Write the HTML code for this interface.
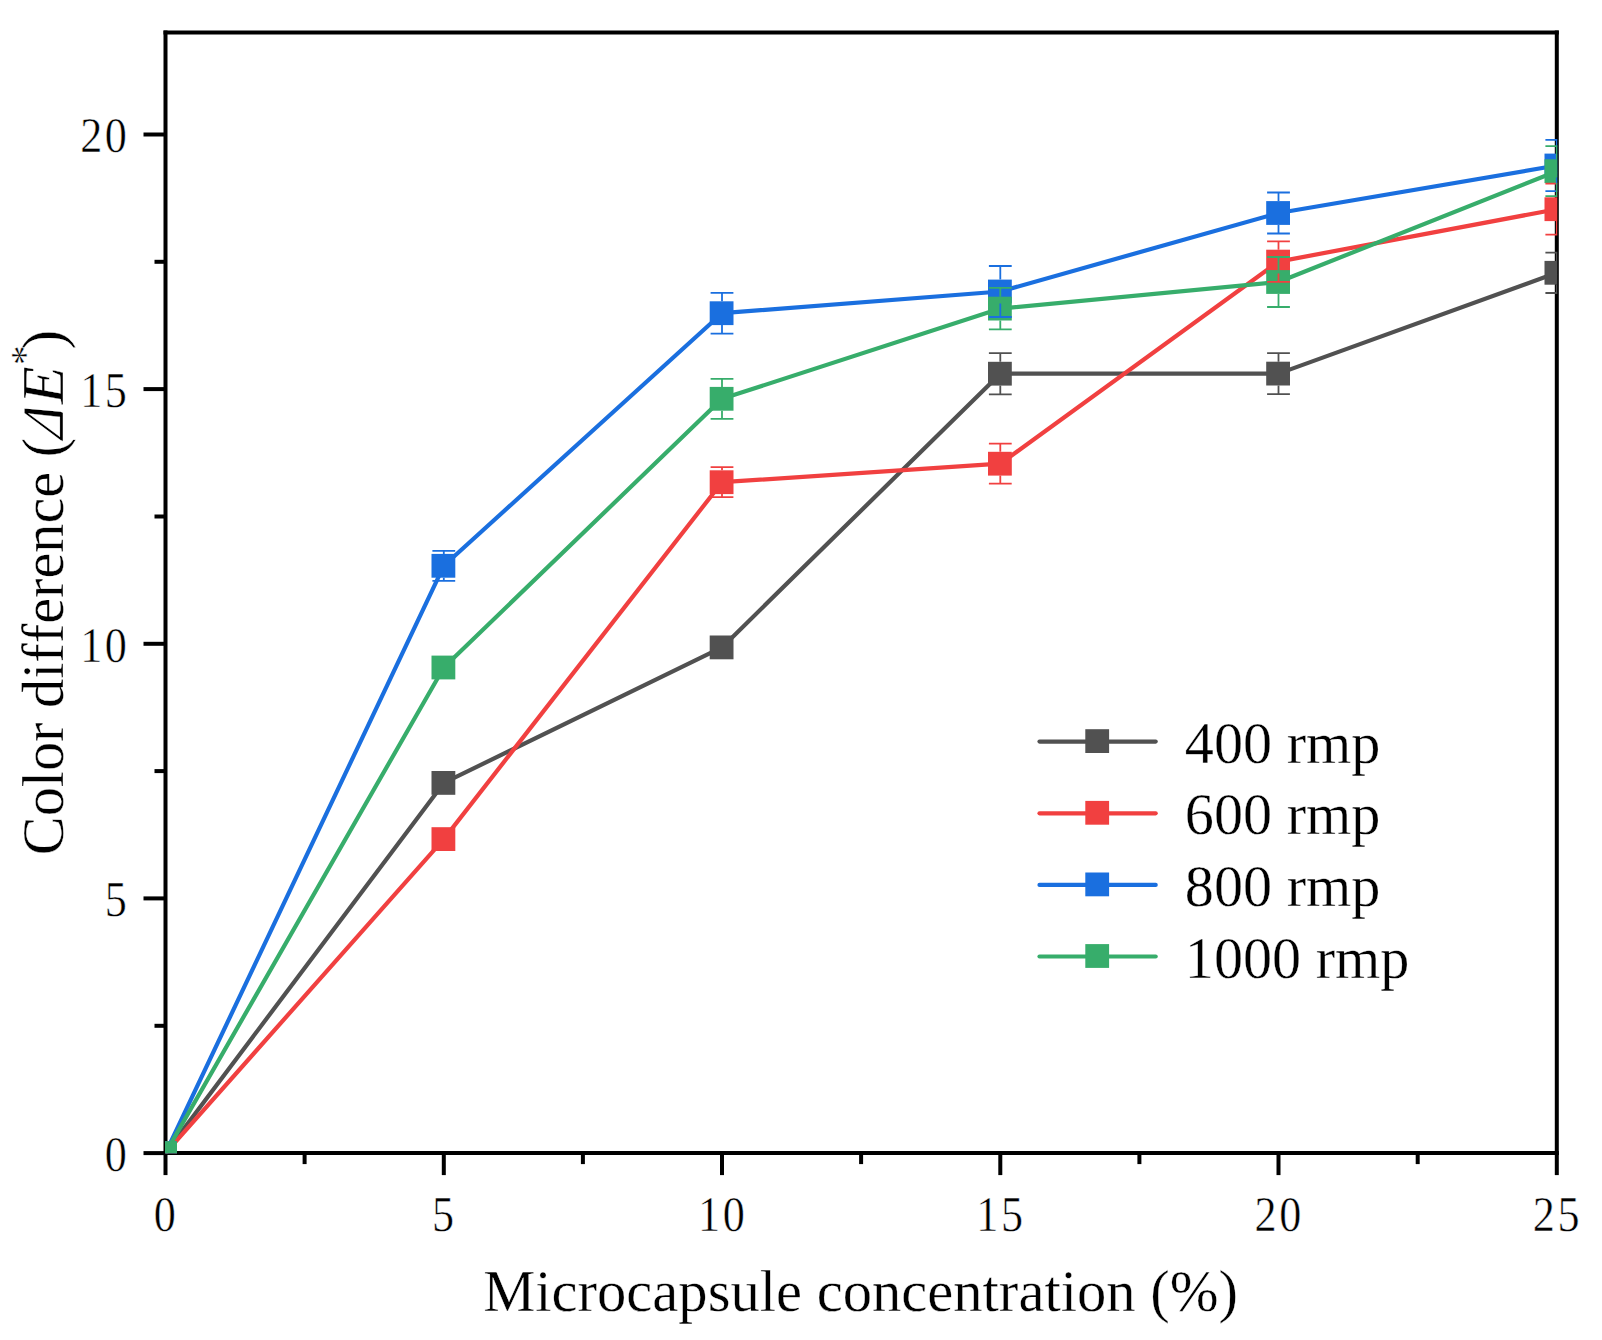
<!DOCTYPE html>
<html lang="en"><head><meta charset="utf-8"><title>Color difference vs microcapsule concentration</title>
<style>html,body{margin:0;padding:0;background:#fff;}body{width:1602px;height:1340px;overflow:hidden;}svg{display:block;}text{font-family:"Liberation Serif",serif;fill:#000;font-kerning:none;font-variant-ligatures:none;stroke:#fff;stroke-width:0.35px;paint-order:fill stroke;}.tick{font-size:50.2px;stroke:#fff;stroke-width:0.5px;paint-order:fill stroke;}.ttl{font-size:58.6px;}.leg{font-size:58.2px;}</style></head><body>
<svg width="1602" height="1340" viewBox="0 0 1602 1340">
<rect width="1602" height="1340" fill="#fff"/>
<defs><clipPath id="plot"><rect x="165.0" y="32.6" width="1392.3" height="1120.6"/></clipPath></defs>
<g stroke="#000" stroke-width="4.0" fill="none" stroke-linecap="butt">
<path d="M165.5 30.6 V1155.1"/>
<path d="M163.5 1153.1 H1558.8"/>
<path d="M165.5 1153.1 V1175.1"/>
<path d="M304.6 1153.1 V1164.1"/>
<path d="M443.8 1153.1 V1175.1"/>
<path d="M582.9 1153.1 V1164.1"/>
<path d="M722.0 1153.1 V1175.1"/>
<path d="M861.1 1153.1 V1164.1"/>
<path d="M1000.3 1153.1 V1175.1"/>
<path d="M1139.4 1153.1 V1164.1"/>
<path d="M1278.5 1153.1 V1175.1"/>
<path d="M1417.7 1153.1 V1164.1"/>
<path d="M1556.8 1153.1 V1175.1"/>
<path d="M165.5 1153.1 H143.5"/>
<path d="M165.5 1025.8 H154.5"/>
<path d="M165.5 898.4 H143.5"/>
<path d="M165.5 771.1 H154.5"/>
<path d="M165.5 643.8 H143.5"/>
<path d="M165.5 516.5 H154.5"/>
<path d="M165.5 389.1 H143.5"/>
<path d="M165.5 261.8 H154.5"/>
<path d="M165.5 134.5 H143.5"/>
</g>
<g stroke="#000" stroke-width="4.0" fill="none">
<path d="M163.5 32.6 H1558.8"/>
<path d="M1556.8 30.6 V1155.1"/>
</g>
<g clip-path="url(#plot)">
<polyline points="165.5,1153.1 443.8,782.9 722.0,647.4 1000.3,373.7 1278.5,373.6 1556.8,272.8" fill="none" stroke="#515151" stroke-width="4.2" stroke-linejoin="round"/>
<rect x="153.2" y="1141.2" width="23.8" height="23.8" fill="#515151"/>
<rect x="431.5" y="771.0" width="23.8" height="23.8" fill="#515151"/>
<rect x="709.7" y="635.5" width="23.8" height="23.8" fill="#515151"/>
<rect x="988.0" y="361.8" width="23.8" height="23.8" fill="#515151"/>
<rect x="1266.2" y="361.7" width="23.8" height="23.8" fill="#515151"/>
<rect x="1544.5" y="260.9" width="23.8" height="23.8" fill="#515151"/>
<polyline points="165.5,1153.1 443.8,839.1 722.0,482.2 1000.3,463.7 1278.5,261.6 1556.8,209.2" fill="none" stroke="#F14040" stroke-width="4.2" stroke-linejoin="round"/>
<rect x="153.2" y="1141.2" width="23.8" height="23.8" fill="#F14040"/>
<rect x="431.5" y="827.2" width="23.8" height="23.8" fill="#F14040"/>
<rect x="709.7" y="470.3" width="23.8" height="23.8" fill="#F14040"/>
<rect x="988.0" y="451.8" width="23.8" height="23.8" fill="#F14040"/>
<rect x="1266.2" y="249.7" width="23.8" height="23.8" fill="#F14040"/>
<rect x="1544.5" y="197.3" width="23.8" height="23.8" fill="#F14040"/>
<polyline points="165.5,1153.1 443.8,565.8 722.0,313.2 1000.3,291.5 1278.5,213.0 1556.8,165.5" fill="none" stroke="#1A6FDF" stroke-width="4.2" stroke-linejoin="round"/>
<rect x="153.2" y="1141.2" width="23.8" height="23.8" fill="#1A6FDF"/>
<rect x="431.5" y="553.9" width="23.8" height="23.8" fill="#1A6FDF"/>
<rect x="709.7" y="301.3" width="23.8" height="23.8" fill="#1A6FDF"/>
<rect x="988.0" y="279.6" width="23.8" height="23.8" fill="#1A6FDF"/>
<rect x="1266.2" y="201.1" width="23.8" height="23.8" fill="#1A6FDF"/>
<rect x="1544.5" y="153.6" width="23.8" height="23.8" fill="#1A6FDF"/>
<polyline points="165.5,1153.1 443.8,667.5 722.0,398.8 1000.3,308.6 1278.5,282.0 1556.8,171.2" fill="none" stroke="#37AD6B" stroke-width="4.2" stroke-linejoin="round"/>
<rect x="153.2" y="1141.2" width="23.8" height="23.8" fill="#37AD6B"/>
<rect x="431.5" y="655.6" width="23.8" height="23.8" fill="#37AD6B"/>
<rect x="709.7" y="386.9" width="23.8" height="23.8" fill="#37AD6B"/>
<rect x="988.0" y="296.7" width="23.8" height="23.8" fill="#37AD6B"/>
<rect x="1266.2" y="270.1" width="23.8" height="23.8" fill="#37AD6B"/>
<rect x="1544.5" y="159.3" width="23.8" height="23.8" fill="#37AD6B"/>
<path d="M1000.3 361.8 V353.1 M988.9 353.1 H1011.7 M1000.3 385.6 V394.3 M988.9 394.3 H1011.7" fill="none" stroke="#515151" stroke-width="1.8"/>
<path d="M1278.5 361.7 V353.1 M1267.1 353.1 H1289.9 M1278.5 385.5 V394.1 M1267.1 394.1 H1289.9" fill="none" stroke="#515151" stroke-width="1.8"/>
<path d="M1556.8 260.9 V252.6 M1545.4 252.6 H1568.2 M1556.8 284.7 V293.0 M1545.4 293.0 H1568.2" fill="none" stroke="#515151" stroke-width="1.8"/>
<path d="M722.0 470.3 V467.2 M710.6 467.2 H733.4 M722.0 494.1 V497.2 M710.6 497.2 H733.4" fill="none" stroke="#F14040" stroke-width="1.8"/>
<path d="M1000.3 451.8 V443.7 M988.9 443.7 H1011.7 M1000.3 475.6 V483.7 M988.9 483.7 H1011.7" fill="none" stroke="#F14040" stroke-width="1.8"/>
<path d="M1278.5 249.7 V241.4 M1267.1 241.4 H1289.9 M1278.5 273.5 V281.8 M1267.1 281.8 H1289.9" fill="none" stroke="#F14040" stroke-width="1.8"/>
<path d="M1556.8 197.3 V183.7 M1545.4 183.7 H1568.2 M1556.8 221.1 V234.7 M1545.4 234.7 H1568.2" fill="none" stroke="#F14040" stroke-width="1.8"/>
<path d="M443.8 553.9 V550.8 M432.4 550.8 H455.2 M443.8 577.7 V580.8 M432.4 580.8 H455.2" fill="none" stroke="#1A6FDF" stroke-width="1.8"/>
<path d="M722.0 301.3 V292.8 M710.6 292.8 H733.4 M722.0 325.1 V333.6 M710.6 333.6 H733.4" fill="none" stroke="#1A6FDF" stroke-width="1.8"/>
<path d="M1000.3 279.6 V266.0 M988.9 266.0 H1011.7 M1000.3 303.4 V317.0 M988.9 317.0 H1011.7" fill="none" stroke="#1A6FDF" stroke-width="1.8"/>
<path d="M1278.5 201.1 V192.5 M1267.1 192.5 H1289.9 M1278.5 224.9 V233.5 M1267.1 233.5 H1289.9" fill="none" stroke="#1A6FDF" stroke-width="1.8"/>
<path d="M1556.8 153.6 V139.9 M1545.4 139.9 H1568.2 M1556.8 177.4 V191.1 M1545.4 191.1 H1568.2" fill="none" stroke="#1A6FDF" stroke-width="1.8"/>
<path d="M722.0 386.9 V378.8 M710.6 378.8 H733.4 M722.0 410.7 V418.8 M710.6 418.8 H733.4" fill="none" stroke="#37AD6B" stroke-width="1.8"/>
<path d="M1000.3 296.7 V287.8 M988.9 287.8 H1011.7 M1000.3 320.5 V329.4 M988.9 329.4 H1011.7" fill="none" stroke="#37AD6B" stroke-width="1.8"/>
<path d="M1278.5 270.1 V257.0 M1267.1 257.0 H1289.9 M1278.5 293.9 V307.0 M1267.1 307.0 H1289.9" fill="none" stroke="#37AD6B" stroke-width="1.8"/>
<path d="M1556.8 159.3 V146.2 M1545.4 146.2 H1568.2 M1556.8 183.1 V196.2 M1545.4 196.2 H1568.2" fill="none" stroke="#37AD6B" stroke-width="1.8"/>
</g>
<text class="tick" transform="translate(153.86 1230.9) scale(0.88 1)" letter-spacing="2.91">0</text>
<text class="tick" transform="translate(432.12 1230.9) scale(0.88 1)" letter-spacing="2.91">5</text>
<text class="tick" transform="translate(698.05 1230.9) scale(0.88 1)" letter-spacing="2.91">10</text>
<text class="tick" transform="translate(976.31 1230.9) scale(0.88 1)" letter-spacing="2.91">15</text>
<text class="tick" transform="translate(1254.57 1230.9) scale(0.88 1)" letter-spacing="2.91">20</text>
<text class="tick" transform="translate(1532.83 1230.9) scale(0.88 1)" letter-spacing="2.91">25</text>
<text class="tick" transform="translate(104.81 1171.0) scale(0.88 1)" letter-spacing="2.91">0</text>
<text class="tick" transform="translate(104.81 916.3) scale(0.88 1)" letter-spacing="2.91">5</text>
<text class="tick" transform="translate(80.16 661.7) scale(0.88 1)" letter-spacing="2.91">10</text>
<text class="tick" transform="translate(80.16 407.0) scale(0.88 1)" letter-spacing="2.91">15</text>
<text class="tick" transform="translate(80.16 152.4) scale(0.88 1)" letter-spacing="2.91">20</text>
<text class="ttl" x="860.6" y="1311" text-anchor="middle">Microcapsule concentration (%)</text>
<text class="ttl" style="font-size:58.25px" transform="translate(63.4 855.2) rotate(-90)">Color difference (</text>
<text class="ttl" font-style="italic" transform="translate(63.4 439.5) rotate(-90) skewX(-13) scale(0.86 1)">Δ</text>
<text class="ttl" font-style="italic" transform="translate(63.4 403.9) rotate(-90) scale(1.05 1)">E</text>
<text transform="translate(38.099999999999994 365.0) rotate(-90)" font-size="39px">*</text>
<text class="ttl" transform="translate(63.4 349.6) rotate(-90)">)</text>
<path d="M1039.5 741.6 H1155.7" stroke="#515151" stroke-width="4.2" stroke-linecap="round" fill="none"/>
<rect x="1085.3" y="729.2" width="23.8" height="23.8" fill="#515151"/>
<text class="leg" x="1184.8" y="762.6">400 rmp</text>
<path d="M1039.5 813.3 H1155.7" stroke="#F14040" stroke-width="4.2" stroke-linecap="round" fill="none"/>
<rect x="1085.3" y="800.9" width="23.8" height="23.8" fill="#F14040"/>
<text class="leg" x="1184.8" y="834.3">600 rmp</text>
<path d="M1039.5 884.9 H1155.7" stroke="#1A6FDF" stroke-width="4.2" stroke-linecap="round" fill="none"/>
<rect x="1085.3" y="872.5" width="23.8" height="23.8" fill="#1A6FDF"/>
<text class="leg" x="1184.8" y="905.9">800 rmp</text>
<path d="M1039.5 956.5 H1155.7" stroke="#37AD6B" stroke-width="4.2" stroke-linecap="round" fill="none"/>
<rect x="1085.3" y="944.1" width="23.8" height="23.8" fill="#37AD6B"/>
<text class="leg" x="1184.8" y="977.5">1000 rmp</text>
</svg></body></html>
